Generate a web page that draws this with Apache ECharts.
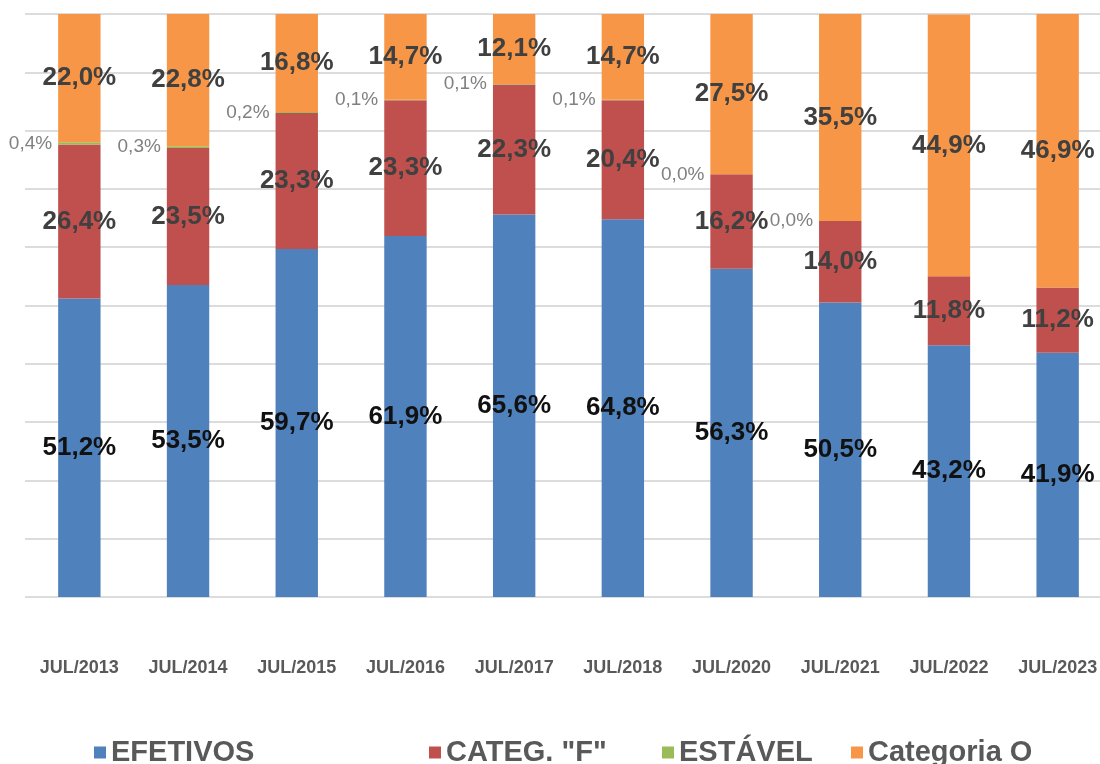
<!DOCTYPE html>
<html>
<head>
<meta charset="utf-8">
<script src="https://cdn.jsdelivr.net/npm/echarts@6/dist/echarts.min.js"></script>
<style>
  html, body { margin: 0; padding: 0; background: #fff; }
  #chart { width: 1100px; height: 764px; }
</style>
</head>
<body>
<div id="chart"></div>
<script>
const categories = ["JUL/2013", "JUL/2014", "JUL/2015", "JUL/2016", "JUL/2017", "JUL/2018", "JUL/2020", "JUL/2021", "JUL/2022", "JUL/2023"];
const efetivos = [51.2, 53.5, 59.7, 61.9, 65.6, 64.8, 56.3, 50.5, 43.2, 41.9];
const categF = [26.4, 23.5, 23.3, 23.3, 22.3, 20.4, 16.2, 14.0, 11.8, 11.2];
const estavel = [0.4, 0.3, 0.2, 0.1, 0.1, 0.1, 0.0, 0.0, null, null];
const categO = [22.0, 22.8, 16.8, 14.7, 12.1, 14.7, 27.5, 35.5, 44.9, 46.9];

const FONT = "'Liberation Sans', Arial, sans-serif";
const pct = (p) => p.value.toFixed(1).replace(".", ",") + "%";

function bigLabel(color) {
  return { show: true, position: "inside", formatter: pct, color, fontFamily: FONT, fontWeight: "bold", fontSize: 26 };
}

function legendAt(name, left) {
  return {
    data: [name], left, top: 738, padding: 0, itemWidth: 12, itemHeight: 12, icon: "rect",
    selectedMode: false,
    textStyle: { fontFamily: FONT, fontWeight: "bold", fontSize: 29, color: "#595959" }
  };
}

const chart = echarts.init(document.getElementById("chart"));
chart.setOption({
  animation: false,
  color: ["#4f81bd", "#c0504d", "#9bbb59", "#f79646"],
  grid: { left: 25, top: 14, width: 1087, height: 583, outerBoundsMode: "none", containLabel: false },
  legend: [
    legendAt("EFETIVOS", 94),
    legendAt('CATEG. "F"', 429),
    legendAt("ESTÁVEL", 662),
    legendAt("Categoria O", 851)
  ],
  xAxis: {
    type: "category", data: categories,
    axisLine: { show: false }, axisTick: { show: false },
    axisLabel: { margin: 62, fontFamily: FONT, fontWeight: "bold", fontSize: 18, color: "#595959" }
  },
  yAxis: {
    type: "value", min: 0, max: 100, interval: 10,
    axisLabel: { show: false }, axisLine: { show: false }, axisTick: { show: false },
    splitLine: { lineStyle: { color: "#dcdcdc", width: 2 } }
  },
  series: [
    { name: "EFETIVOS", type: "bar", stack: "t", barWidth: "39%", data: efetivos, label: bigLabel("#111111") },
    { name: 'CATEG. "F"', type: "bar", stack: "t", data: categF, label: bigLabel("#404040") },
    {
      name: "ESTÁVEL", type: "bar", stack: "t", data: estavel,
      label: { show: true, position: "left", distance: 6, formatter: pct, color: "#808080", fontFamily: FONT, fontSize: 19 }
    },
    { name: "Categoria O", type: "bar", stack: "t", data: categO, label: bigLabel("#404040") }
  ]
});
</script>
</body>
</html>
